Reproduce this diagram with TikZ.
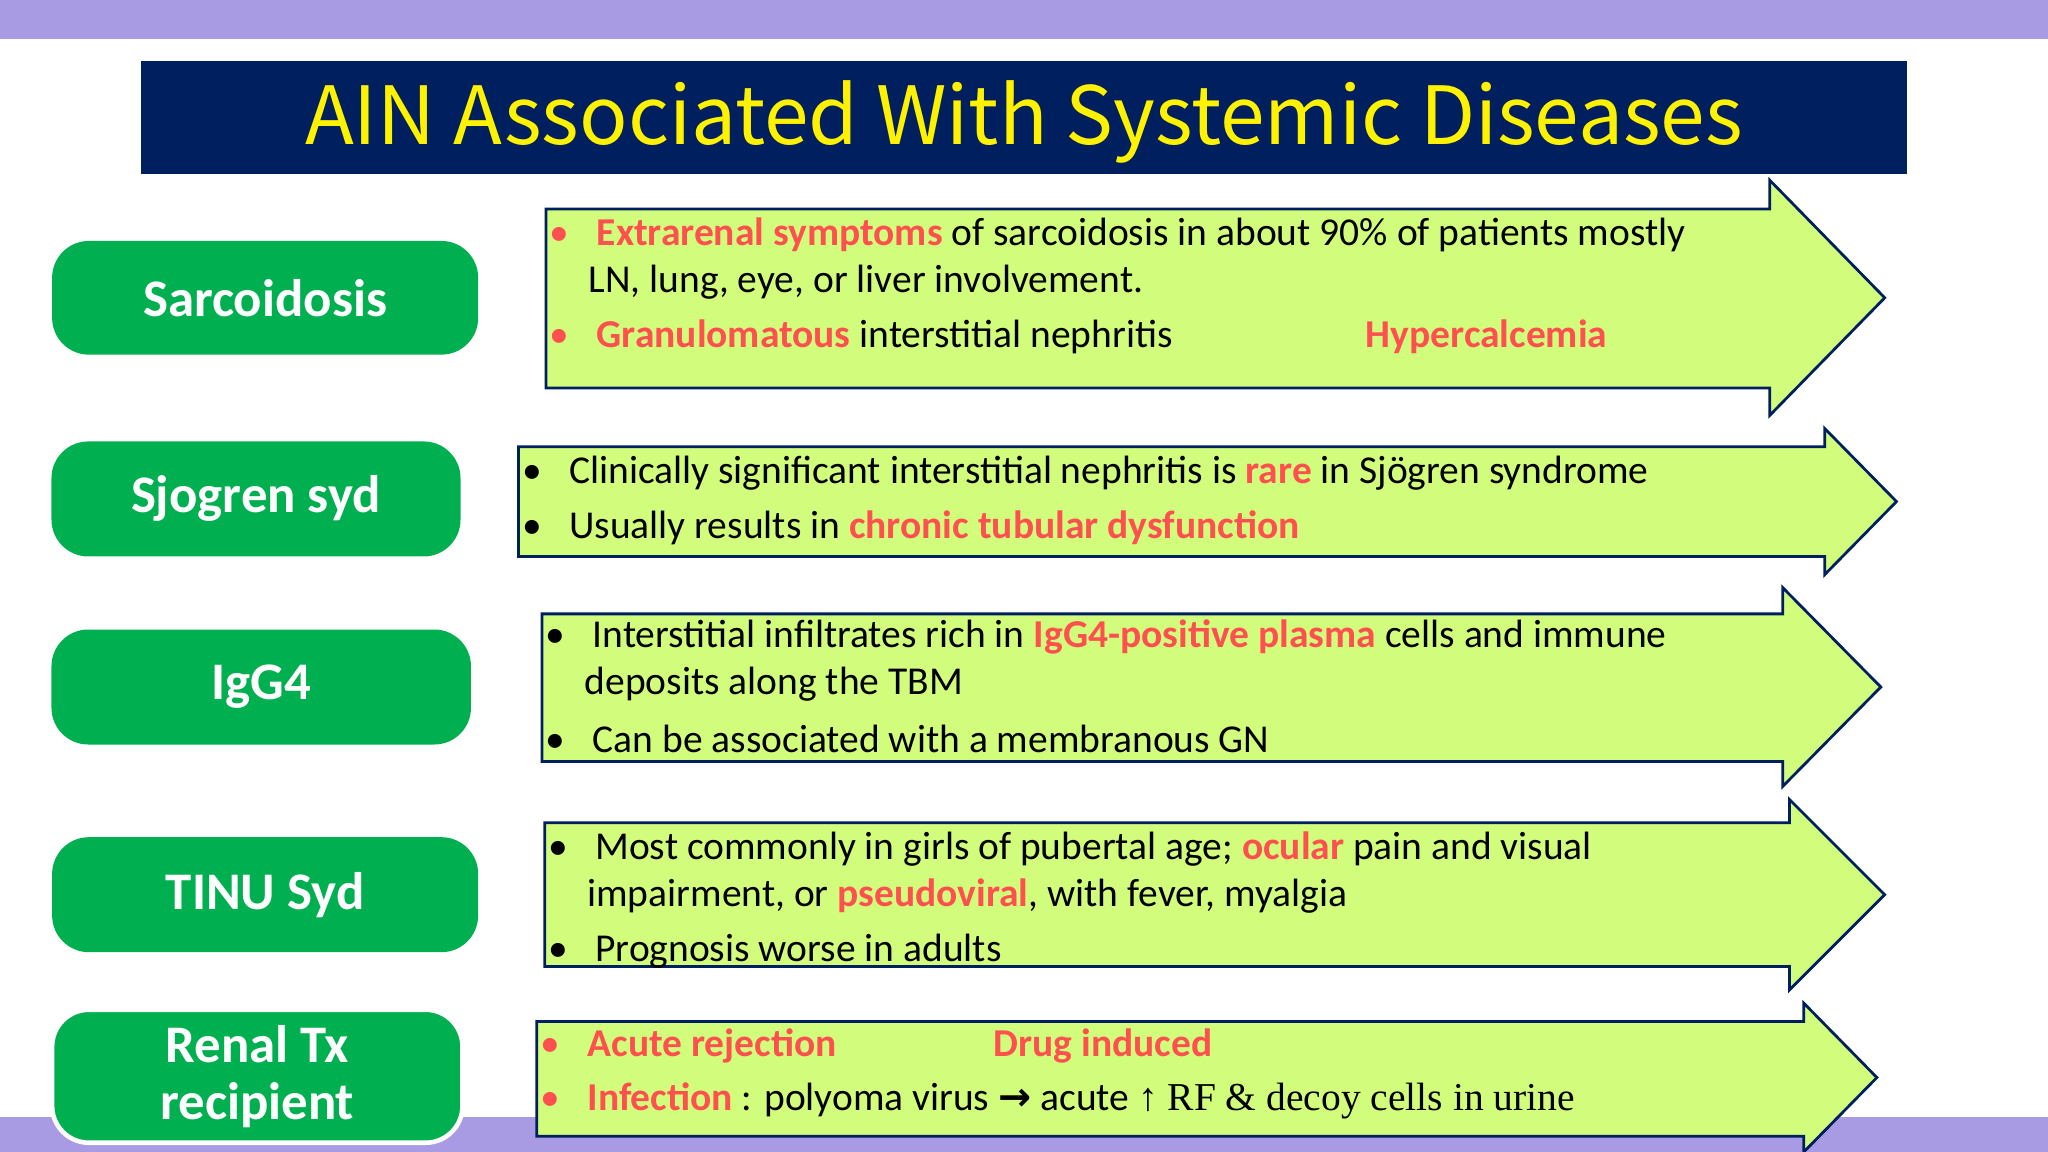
\documentclass[tikz,border=0pt]{standalone}
\usepackage{fontspec}
\setmainfont{Carlito}
\newfontfamily\serifp{Liberation Serif}
\newfontfamily\symf{DejaVu Sans}
\newfontfamily\titlef{Noto Sans CJK JP}
\definecolor{navy}{HTML}{001F5F}
\definecolor{grn}{HTML}{00B050}
\definecolor{lime}{HTML}{D2FC7C}
\definecolor{redt}{HTML}{FF5050}
\definecolor{band}{HTML}{A99BE3}
\newcommand{\rd}[1]{\textcolor{redt}{\textbf{#1}}}
\begin{document}
\begin{tikzpicture}[x=0.01cm,y=-0.01cm,
  lab/.style={fill=grn,rounded corners=8pt,text=white,font=\bfseries\fontsize{11.5}{12}\selectfont,align=center},
  arr/.style={fill=lime,draw=navy,line width=0.6pt},
  txt/.style={anchor=west,inner sep=0pt,font=\fontsize{8.6}{10}\selectfont}]
\useasboundingbox (0,0) rectangle (1568,882);
\fill[band] (0,0) rectangle (1568,30);
\fill[band] (0,855) rectangle (1568,882);
\node[fill=navy,minimum width=13.52cm,minimum height=0.86cm,inner sep=0pt] (title) at (784,90) {};
\node[text=yellow] (tt) at (784,93) {\resizebox{11cm}{!}{\titlef AIN Associated With Systemic Diseases}};
% arrows
\path[arr] (418,160) -- (1355,160) -- (1355,138) -- (1443,228) -- (1355,318) -- (1355,297) -- (418,297) -- cycle;
\path[arr] (397,342) -- (1397,342) -- (1397,328) -- (1452,384) -- (1397,440) -- (1397,426) -- (397,426) -- cycle;
\path[arr] (415,470) -- (1365,470) -- (1365,450) -- (1440,526) -- (1365,602) -- (1365,583) -- (415,583) -- cycle;
\path[arr] (417,630) -- (1370,630) -- (1370,612) -- (1443,685) -- (1370,758) -- (1370,740) -- (417,740) -- cycle;
\path[arr] (411,782) -- (1381,782) -- (1381,768) -- (1437,825) -- (1381,882) -- (1381,870) -- (411,870) -- cycle;
% labels
\node[lab,minimum width=3.26cm,minimum height=0.87cm] (l1) at (203,228) {Sarcoidosis};
\node[lab,minimum width=3.13cm,minimum height=0.88cm] (l2) at (196,382) {Sjogren syd};
\node[lab,minimum width=3.21cm,minimum height=0.88cm] (l3) at (200,526) {IgG4};
\node[lab,minimum width=3.26cm,minimum height=0.88cm] (l4) at (203,685) {TINU Syd};
\node[lab,draw=white,line width=1pt,minimum width=3.14cm,minimum height=0.89cm,font=\bfseries\fontsize{11.5}{12.4}\selectfont] (l5) at (197,824) {Renal Tx\\recipient};
% texts
\node[txt] (a1) at (420,180) {\textcolor{redt}{•}\hspace{6pt}\rd{Extrarenal symptoms} of sarcoidosis in about 90\% of patients mostly};
\node[txt] (a2) at (450,216) {LN, lung, eye, or liver involvement.};
\node[txt] (a3) at (420,258) {\textcolor{redt}{•}\hspace{6pt}\rd{Granulomatous} interstitial nephritis};
\node[txt] (a4) at (1045,258) {\rd{Hypercalcemia}};
\node[txt] (b1) at (399,362) {•\hspace{6pt}Clinically significant interstitial nephritis is \rd{rare} in Sjögren syndrome};
\node[txt] (b2) at (399,404) {•\hspace{6pt}Usually results in \rd{chronic tubular dysfunction}};
\node[txt] (c1) at (417,488) {•\hspace{6pt}Interstitial infiltrates rich in \rd{IgG4-positive plasma} cells and immune};
\node[txt] (c2) at (447,524) {deposits along the TBM};
\node[txt] (c3) at (417,566) {•\hspace{6pt}Can be associated with a membranous GN};
\node[txt] (d1) at (419,650) {•\hspace{6pt}Most commonly in girls of pubertal age; \rd{ocular} pain and visual};
\node[txt] (d2) at (449,686) {impairment, or \rd{pseudoviral}, with fever, myalgia};
\node[txt] (d3) at (419,728) {•\hspace{6pt}Prognosis worse in adults};
\node[txt] (e1) at (413,801) {\textcolor{redt}{•}\hspace{6pt}\rd{Acute rejection}};
\node[txt] (e2) at (760,801) {\rd{Drug induced}};
\node[txt] (e3) at (413,843) {\textcolor{redt}{•}\hspace{6pt}\rd{Infection} : polyoma virus {\symf\bfseries →} acute {\serifp ↑ RF \& decoy cells in urine}};
\end{tikzpicture}
\end{document}
